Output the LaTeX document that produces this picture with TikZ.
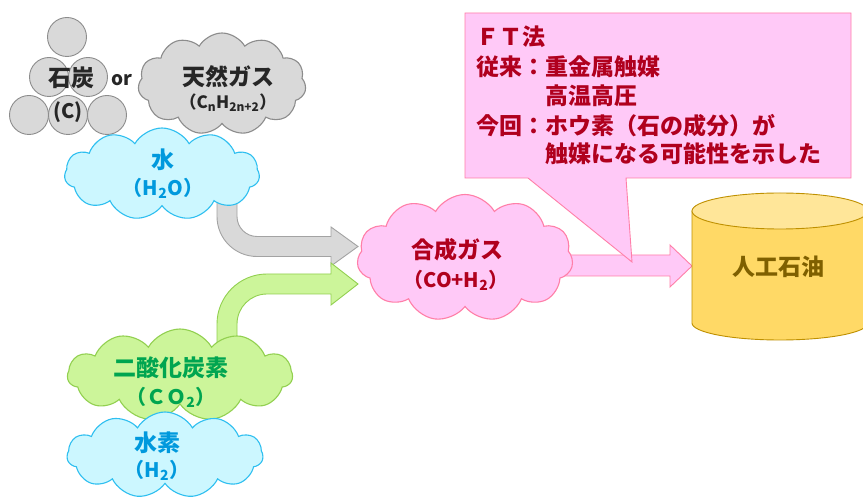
\documentclass[tikz,border=0pt]{standalone}
\usepackage{fontspec}
\setmainfont{Noto Sans CJK JP}
\usetikzlibrary{shapes.symbols}
\definecolor{grayfill}{HTML}{D9D9D9}
\definecolor{grayline}{HTML}{8C8C8C}
\definecolor{graytext}{HTML}{262626}
\definecolor{waterfill}{HTML}{CCF7FF}
\definecolor{waterline}{HTML}{2EBFF0}
\definecolor{watertext}{HTML}{0099DD}
\definecolor{greenfill}{HTML}{CCF59A}
\definecolor{greenline}{HTML}{92D050}
\definecolor{greentext}{HTML}{00A550}
\definecolor{pinkfill}{HTML}{FFC9F7}
\definecolor{pinkline}{HTML}{FF7FA8}
\definecolor{redtext}{HTML}{B0001E}
\definecolor{goldfill}{HTML}{FFD966}
\definecolor{goldtop}{HTML}{FFE699}
\definecolor{goldline}{HTML}{BF9000}
\definecolor{goldtext}{HTML}{7F6000}
\begin{document}
\begin{tikzpicture}[x=1pt,y=-1pt,
  every node/.style={inner sep=0pt, font=\bfseries},
  puff/.style={cloud, cloud puffs=11, cloud puff arc=120, cloud ignores aspect, inner sep=0pt, line width=1.1pt},
  coal/.style={circle, draw=grayline, fill=grayfill, line width=0.9pt, minimum size=39pt},
  big/.style={font=\bfseries\fontsize{23}{28}\selectfont},
  mid/.style={font=\bfseries\fontsize{20}{24}\selectfont},
  ftline/.style={anchor=base west, text=redtext, font=\bfseries\fontsize{23}{29}\selectfont}
]
\useasboundingbox (0,0) rectangle (863,502);
\fill[white] (0,0) rectangle (863,502);

% coal stack
\node[coal] (c1) at (67,37) {};
\node[coal] (c2) at (49,77) {};
\node[coal] (c3) at (88,77) {};
\node[coal] (c4) at (29,115) {};
\node[coal] (c5) at (68,115) {};
\node[coal] (c6) at (107,115) {};
\node[big, text=graytext] (coalT) at (71,78) {石炭};
\node[mid, text=graytext] (coalF) at (68,112) {(C)};
\node[font=\bfseries\fontsize{19}{22}\selectfont, text=graytext] (or) at (122,80) {or};

% natural gas cloud
\node[puff, draw=grayline, fill=grayfill, minimum width=168pt, minimum height=102pt] (gas) at (222,84) {};
\node[big, text=graytext] (gasT) at (228,77) {天然ガス};
\node[font=\bfseries\fontsize{17}{20}\selectfont, text=graytext] (gasF) at (228,103) {（C\textsubscript{n}H\textsubscript{2n+2}）};

% gray bent arrow
\path[draw=grayline!80, fill=grayfill, line width=0.9pt]
  (217,195) -- (217,216.5) .. controls (217,238.6) and (234.9,256.5) .. (257,256.5)
  -- (331,256.5) -- (331,266) -- (358,246.5) -- (331,227) -- (331,236.5)
  -- (257,236.5) .. controls (246,236.5) and (237,227.5) .. (237,216.5)
  -- (237,195) -- cycle;

% green bent arrow
\path[draw=greenline, fill=greenfill, line width=0.9pt]
  (217,350) -- (217,324) .. controls (217,296.4) and (239.4,274) .. (267,274)
  -- (331,274) -- (331,263) -- (358,284) -- (331,305) -- (331,294)
  -- (267,294) .. controls (250.4,294) and (237,307.4) .. (237,324)
  -- (237,350) -- cycle;

% water cloud
\node[puff, draw=waterline, fill=waterfill, minimum width=195pt, minimum height=92pt] (water) at (162,174) {};
\node[big, text=watertext] (waterT) at (163,160) {水};
\node[mid, text=watertext] (waterF) at (163,188) {（H\textsubscript{2}O）};

% CO2 cloud
\node[puff, draw=greenline, fill=greenfill, minimum width=225pt, minimum height=92pt] (co2) at (180,375) {};
\node[big, text=greentext] (co2T) at (171,368) {二酸化炭素};
\node[mid, text=greentext] (co2F) at (171,397) {（ＣＯ\textsubscript{2}）};

% hydrogen cloud
\node[puff, draw=waterline, fill=waterfill, minimum width=196pt, minimum height=86pt] (h2) at (165,455) {};
\node[big, text=watertext] (h2T) at (157,443) {水素};
\node[mid, text=watertext] (h2F) at (157,470) {（H\textsubscript{2}）};

% pink arrow to oil
\path[draw=pinkline, fill=pinkfill, line width=0.9pt]
  (560,255) -- (670,255) -- (670,245) -- (692,266) -- (670,287) -- (670,276) -- (560,276) -- cycle;

% callout
\path[draw=pinkline, fill=pinkfill, line width=0.9pt]
  (465,13) -- (851,13) -- (851,178) -- (626,178) -- (632,262) -- (528,178) -- (465,178) -- cycle;
\node[ftline] (ft1) at (476,46) {ＦＴ法};
\node[ftline] (ft2) at (476,76) {従来：重金属触媒};
\node[ftline] (ft3) at (476,105) {　　　高温高圧};
\node[ftline] (ft4) at (476,135) {今回：ホウ素（石の成分）が};
\node[ftline] (ft5) at (476,163) {　　　触媒になる可能性を示した};

% syngas cloud
\node[puff, draw=pinkline, fill=pinkfill, minimum width=216pt, minimum height=127pt] (syn) at (465,258) {};
\node[big, text=redtext] (synT) at (457,250) {合成ガス};
\node[mid, text=redtext] (synF) at (456,280) {（CO+H\textsubscript{2}）};

% cylinder
\path[draw=goldline, fill=goldfill, line width=0.9pt]
  (692,211) -- (692,323) arc[start angle=180, end angle=0, x radius=88, y radius=17] -- (868,211) -- cycle;
\draw[goldline, fill=goldtop, line width=0.9pt] (780,211) ellipse [x radius=88, y radius=18];
\node[big, text=goldtext] (oil) at (778,267) {人工石油};
\end{tikzpicture}
\end{document}
